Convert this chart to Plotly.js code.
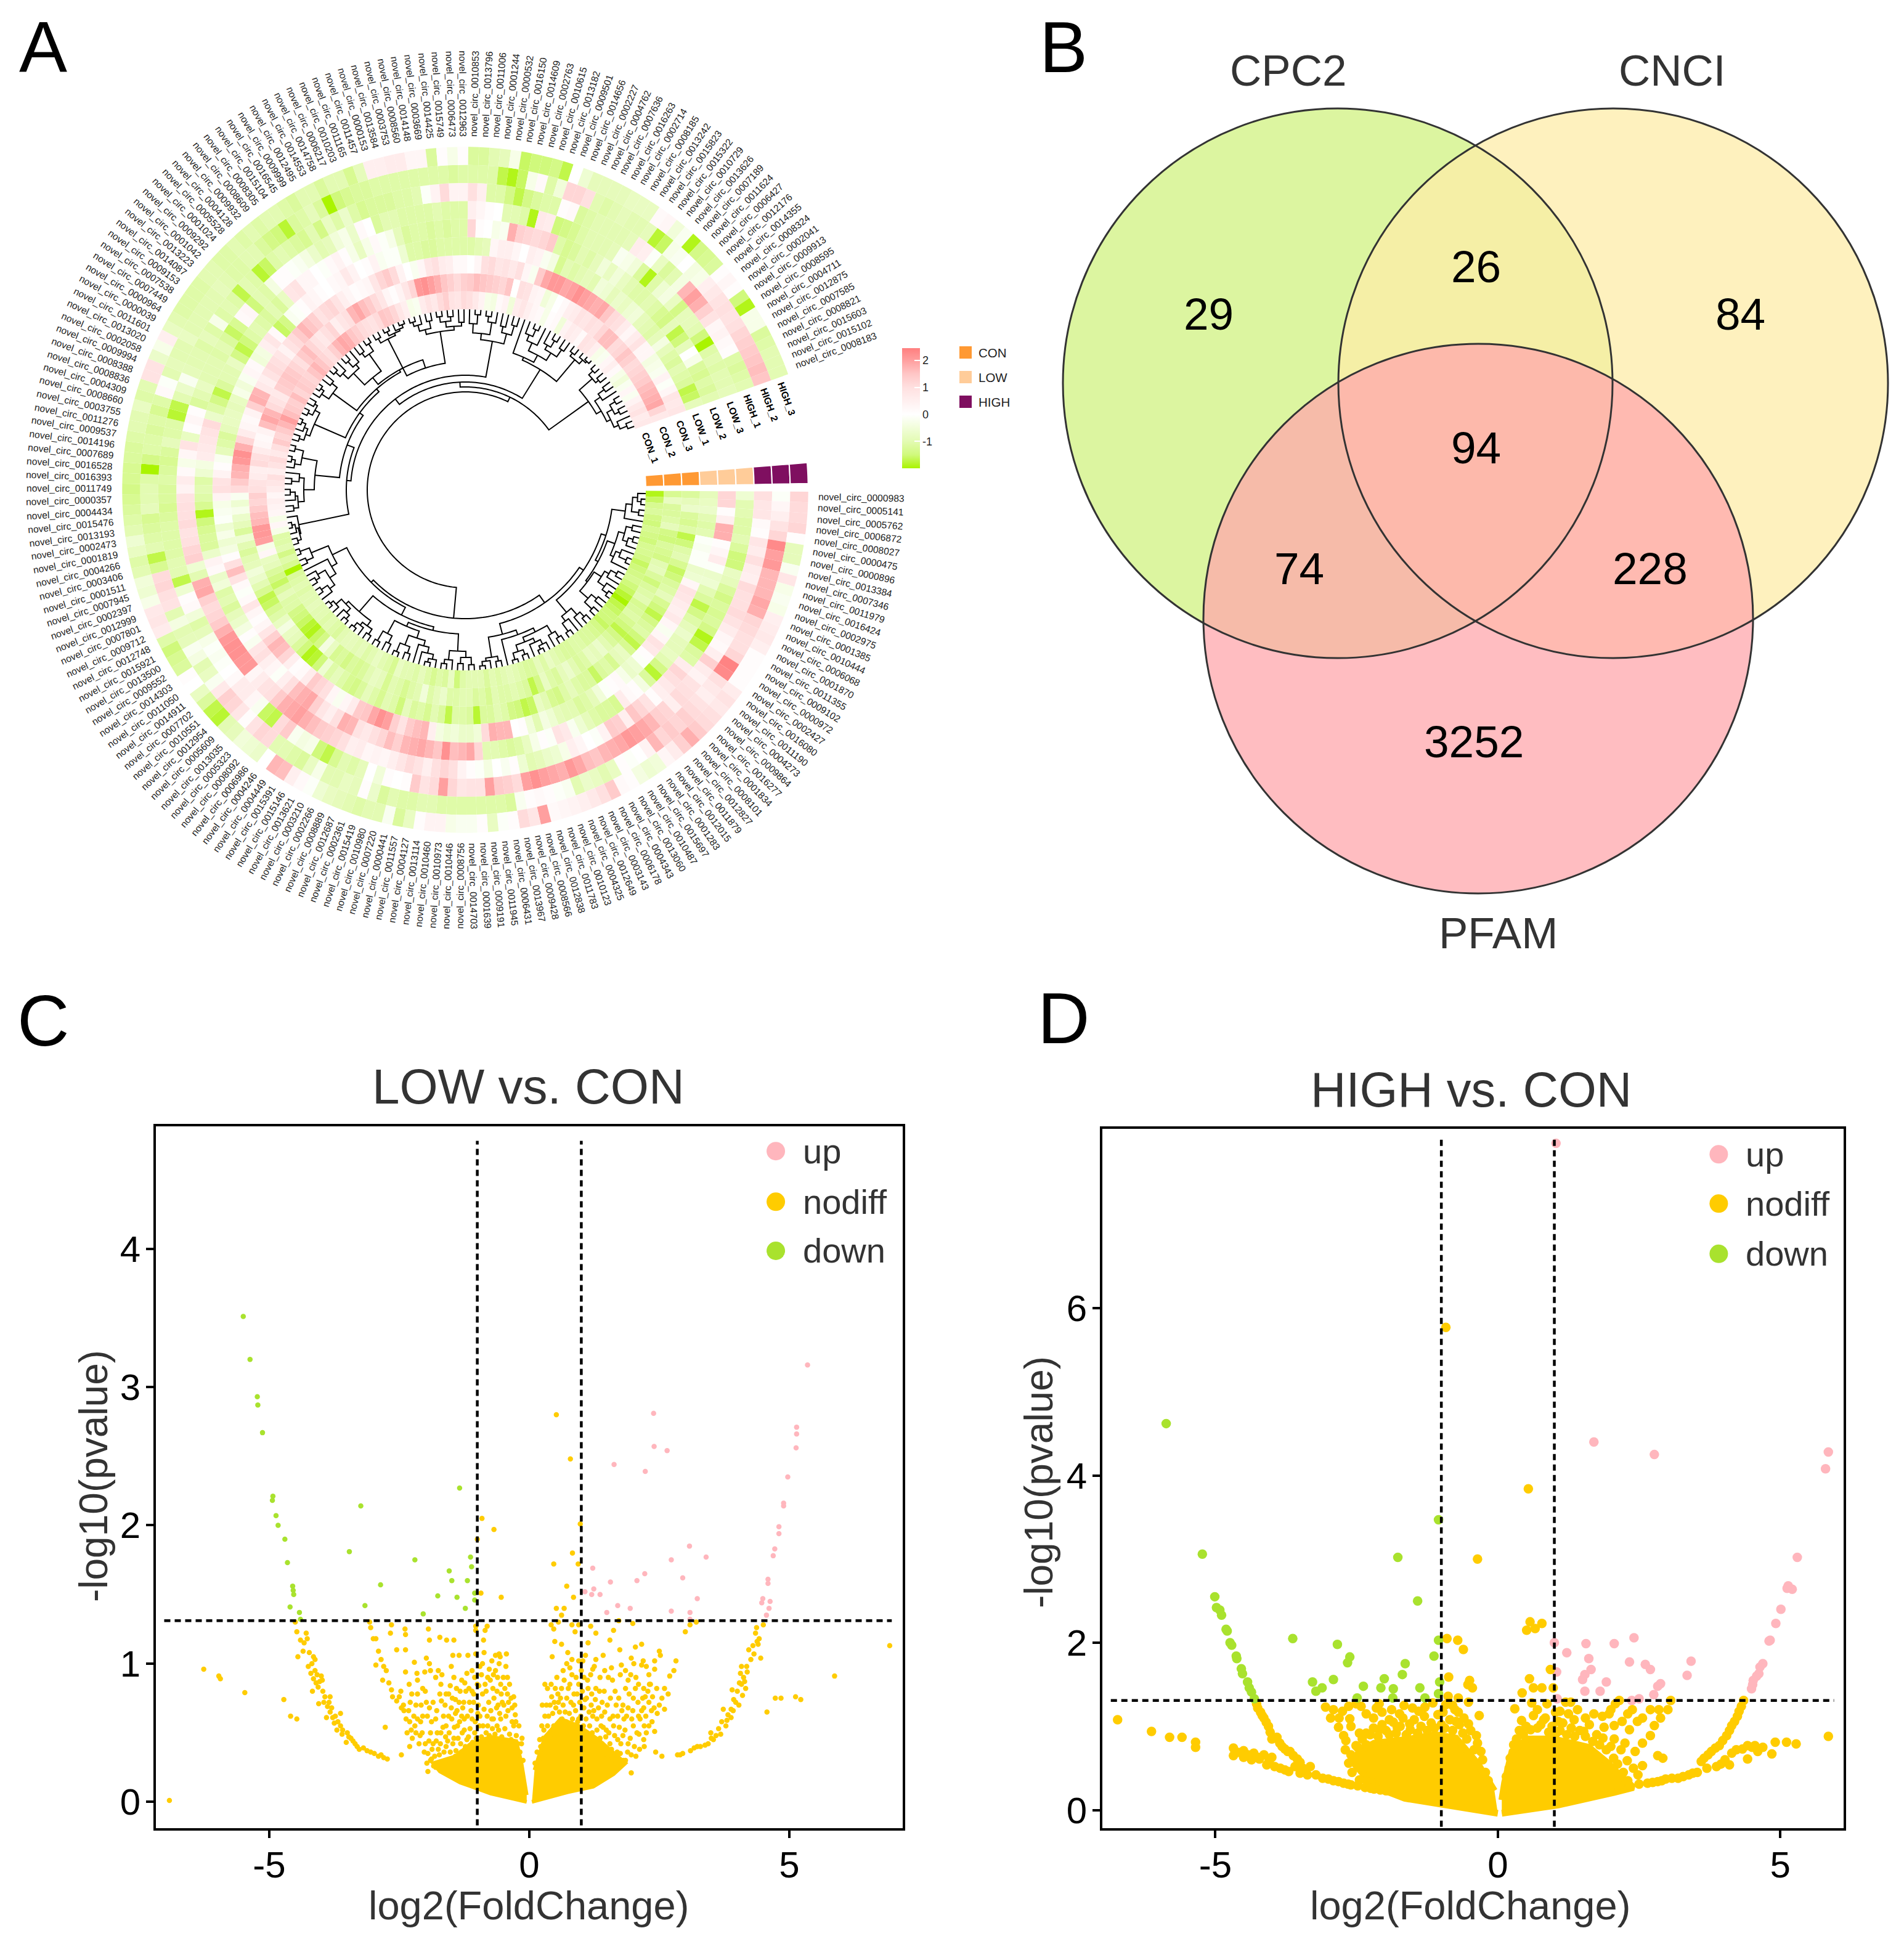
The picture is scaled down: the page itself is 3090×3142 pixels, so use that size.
<!DOCTYPE html>
<html><head><meta charset="utf-8">
<script src="https://cdn.plot.ly/plotly-3.0.1.min.js"></script>
<style>html,body{margin:0;padding:0;background:#fff}</style></head>
<body><div id="chart" style="width:3090px;height:3142px"></div>
<script>
const FONT='"Liberation Sans", Arial, sans-serif';
// ---------- Panel A: row labels, clockwise from the start of the sector
const circIds=[983,5141,5762,6872,8027,475,896,13384,7346,11979,16424,2975,1385,10444,6068,1870,11355,9102,972,2427,
16080,11190,4273,9864,16277,1834,8101,12827,11879,12015,1283,15697,10487,13060,4343,6178,3143,12649,4325,10123,
11783,12838,8566,9428,13967,6431,11945,9191,1639,14703,8756,10446,10973,10460,13114,4127,11557,441,7220,10980,
15419,2361,12687,8889,2266,3210,13621,15146,15391,4449,4246,6986,8092,5323,13035,5609,12954,10551,7702,14911,
11050,14303,9552,13500,15921,12748,9712,7801,12999,2397,7945,1511,3406,4266,1819,2473,13193,15476,4434,357,
11749,16393,16528,7689,14196,9537,11276,3755,8660,4309,8836,8388,9994,2058,13020,11601,39,964,7449,7538,
9153,14087,13223,1042,9292,1024,5528,4128,9932,8609,8305,15104,16545,9999,12495,14553,14758,6217,10203,11165,
11457,153,13584,3753,8560,14148,3669,14425,15749,6473,12963,10853,13796,11006,1244,532,16150,14609,2763,10615,
13182,9501,14656,2227,4762,7636,16263,2714,8185,13242,15823,15322,10729,13626,7189,11624,6427,12176,14355,8324,
2041,9913,8595,4711,12875,7585,8821,15603,15102,8183];
const sampleNames=['CON_1','CON_2','CON_3','LOW_1','LOW_2','LOW_3','HIGH_1','HIGH_2','HIGH_3'];
const groupNames=['CON','LOW','HIGH'];
const groupColors=['#FF9933','#FFCC99','#7F0F60'];
const sampleGroup=[0,0,0,1,1,1,2,2,2];
// heat values per sample ring (inner to outer)
const con1=[-1.9,-1.6,-1.3,-1.2,-1.4,-1.5,-1.3,-1.4,-1.5,-1.3,
-1.3,-1.4,-1.6,-1.5,-1.4,-1.3,-1.5,-1.6,-1.8,-2,
-1.7,-1.6,-1.5,-1.5,-1.6,-1.4,-1.3,-1.2,-1.2,-1.1,
-1.1,-1.2,-1.2,-1.1,-1,-.8,-1.1,-.9,-1.2,-1.2,
-1.1,-1,-.9,-1,-1.1,-1,-1.2,-1,-1,-1,
-1.1,-1.5,-.8,-1.2,-1.1,-1.3,-1.1,-.9,-1.1,-1,
-1,-.8,-1.3,-1.1,-1,-.8,-1,-1.1,-.9,-1,
-.9,-.9,-1,-1.2,-1.1,-1,-1.1,-1,-1,-.9,
-1,-1,-1.1,-1,-1.1,-1.2,-2,-1.3,-1.1,-1.4,
-1,-1.1,-1.1,-.3,.3,-.3,.3,.4,.5,.3,
.6,.8,1,.5,.9,1.1,.7,1,1.4,1.2,
1.4,1.7,2,1.6,1.4,1.3,1.6,1.2,1.4,1.3,
1.2,1.5,1.7,1.5,1.2,1,1.3,1.7,1.9,1.8,
1.5,1.3,1.1,1,.9,1.1,1.5,1.4,1.2,.8,
.5,-.3,-.2,.6,.9,.7,1.1,1.3,.9,.8,
1.1,1,.7,.4,-.3,-.4,.2,.4,-.5,.6,
.8,.5,.3,.2,-.3,.1,.2,-.5,.4,.6,
.5,.2,.9,.8,.5,-.3,-.2,.3,.5,.2,
-.3,-.5,-.2,.3,-.2,.4,.7,.9,.6,.7];
const con2=[-1.3,-.8,-1.2,-1.2,-1.1,-.9,-1.4,-1.5,-1.2,-1.3,
-1.4,-1,-.9,-1.2,-1.5,-1.2,-1.1,-1,-1.3,-1.2,
-1.1,-1.3,-1.5,-1.7,-1.4,-1.2,-1,-.7,-.9,-.8,
-1.1,-1.2,-1,-.7,-.9,-1.2,-1.1,-.8,-1.4,-1.7,
-1.2,-1.1,-1,-1.1,-1.1,-1,-1.3,-1.1,-1.2,-1,
-1,-1.1,-1.1,-.7,-.9,-1.1,-.5,-1,-1.1,-1.3,
-1.1,-1,-1.3,-.9,-.8,-1,-1.2,-1.3,-1.2,-1.4,
-1.2,-1.3,-.8,-.4,-1.4,-1.6,-1.9,-1.8,-1.6,-1.5,
-1.4,-1.1,-1.1,-.9,-1.2,-1.6,-1.4,-1.2,-.9,-.8,
.3,-.3,2,2.1,2.1,1.7,1.6,1.4,1.2,1.3,
1,.9,.6,.5,1.1,1,.6,.3,.2,.4,
1.6,1.9,1.7,1.1,.9,.7,1.3,1.4,1.5,1.4,
1.2,1,1.4,1.6,1.2,.9,.7,1,1.2,.5,
.8,1,1.7,1.9,1.6,1.4,1.1,.8,.3,.1,
.4,.8,1.2,2.1,2.2,2,1.8,1.5,1.3,1.1,
1.3,1.4,1.6,1.5,1.4,1.3,1.2,1.5,0,1,
.9,.4,.3,-.5,-.3,0,.2,.5,.6,.9,
.8,1,.9,1.2,1.6,1.6,1.1,1.2,1.5,1.3,
1.1,1.2,1.3,1.4,1.6,1.7,1.8,1.9,1.2,.7];
const con3=[-1.2,-.9,-.7,-1.2,-1.3,-1.1,-1.7,-1.5,-1.1,-1,
-1.3,-1.6,-1.5,-1.2,-1.1,-.9,-1.3,-1.5,-1.7,-1.4,
-1.2,-1.1,-1.5,-1.7,-1.3,-.8,-.9,-1.3,-1.1,-1.2,
-1.6,-1.2,-1.2,-1.1,-.9,-1.1,-1.4,-1.3,-1,-.8,
-1.6,-1.7,-1.5,-1.4,-1.1,-1,-1.2,-1.2,-1.8,-1.2,
-1.1,-1.1,-1.7,-1.2,-1,-1.3,-1.1,-1.2,-.9,-1.5,
-1.1,-1,-1.3,-1.1,-.9,-1.2,-1.4,-1.3,-1.1,-.9,
-1.1,-.6,-1.5,-1.8,-1.9,-1.5,-1.2,-.9,-.8,-.4,
-.8,-1.1,-1.3,-1.6,-1.7,-1.3,-1,-.7,-.5,-.9,
-1,-1.2,-1,-.6,-1.2,-.9,-.7,-.3,-.6,-.2,
1.1,1.4,1.7,1.8,2.1,2.2,1.8,1.2,.6,.3,
.2,.4,1.3,1.8,1.7,.7,.5,.9,1.1,1,
.8,.4,.9,1.1,1.4,1.7,1.5,1.3,.9,1.1,
1.2,.9,.5,.3,.1,.2,.3,.8,1.2,1.4,
1.1,.4,0,-.2,.3,.8,1,.6,.5,.2,
.2,0,.3,1,1.1,.8,.9,.7,1,.3,
-.2,1.4,1.9,2.1,2.1,1.9,2,2.2,2,1.9,
1.8,1.9,1.5,1.1,1,.6,.3,.6,.9,.3,
.3,-.4,-.3,-.2,.4,-.1,.3,.8,.7,.8];
const low1=[-.9,-.8,-.7,-1,-1.1,-1,-.1,-.2,-.1,-.1,
-.7,-.6,.3,.9,.8,.6,.5,.7,.3,-.2,
.3,.9,.7,.1,-.1,-.6,-.7,-.3,.2,.1,
-.1,-.5,-.9,-1.1,-1.2,-1,-1,-.9,-.6,-.4,
-1,-.5,.1,0,1.7,1.7,1.8,1.1,-.5,-.7,
-.7,-.5,-.6,-.4,.5,1.7,1.6,1.4,.9,1.3,
2,2.2,1.9,1.5,1.4,.6,.3,-.2,.3,1,
1.2,1.4,.6,.2,.1,.5,1.2,1.6,1.7,1.3,
.8,.3,.1,.3,.8,.2,-.1,.2,.9,1.6,
1,.1,-.4,-.6,-.3,-.6,-.1,-.2,-.3,.4,
1,.9,.4,.1,-.2,-.9,-1.1,-1.2,-.9,-.8,
-.8,-.9,-.8,-.3,-.5,-.2,.3,.2,-.5,-.4,
.5,.8,.2,-1.6,-1.4,-.2,-.1,.1,.4,.3,
.1,0,.2,.3,.7,.4,0,.1,.4,-.2,
-.1,-.1,-.6,-1.1,-1.1,-1.2,-1.2,-1.1,-1.1,-1.1,
-1.1,-1.1,-1,-.9,.3,.5,.5,.3,0,.5,
.4,-.2,-.4,-1.3,-1,-1.1,-1,-.9,-1,-.5,
-.6,-.9,-.7,-.8,-.6,-.5,-.9,-1,-1.1,-.9,
-.4,-.9,-1.1,-1.2,-1,-1.1,-1.2,-1.7,-1.6,-.9];
const low2=[1.2,1.2,.1,.5,1.8,1.8,.1,.3,.6,-.1,
-.7,-.6,-1,-1.2,-1.7,-1.4,-1.1,-.9,-.7,-.9,
-.9,-.8,-1,-1.4,-1.8,-1.2,-.4,.1,.2,.6,
-1.3,-1.2,-1.2,-1.1,-.9,-.6,-.2,.7,.9,-.1,
.1,-.3,-.8,-1.1,-1.2,-1.1,-1,-1,1.2,1.9,
1.7,1.6,2.2,1.5,1.7,1.9,1.8,1.7,1.3,1.6,
1.2,1,.7,.9,1.7,1.8,1,.5,.8,1.3,
1.9,1.8,1.6,1,.5,-.1,.3,.5,1,.8,
-.2,.1,-.4,-.7,-.9,-1.2,-1,-1.1,-.5,-.7,
.2,.4,-.7,-1.2,-1.2,-1.3,-1.5,-1.9,-1.3,-1.1,
-1,-1.1,-.6,-.4,.6,.7,.8,.9,1.1,-.7,
-1.1,-1.4,-1.7,-1.2,-1,-1,-.8,-1.4,-1.7,-1.5,
-1.1,-1,-1.1,-1.2,-1,-1.2,-.8,.8,.9,.3,
.3,0,-.1,.2,.4,.1,-.3,-.8,-.3,.2,
-.1,-.3,-.9,-1.2,-1.1,-1.1,-1.2,-1.1,-1.2,-1.1,
-1.1,1.2,.1,0,-.3,-.2,1.8,1.3,1.2,1.1,
1.2,1.4,-1.1,-1.3,-1.2,-1,-1.1,-.9,-.5,-.8,
-.5,-.8,-1,-1.1,-1.1,-1,-1.1,-1.3,-1.4,-.9,
-1.7,-1.5,-.9,0,-.3,-1.2,-1.3,-1.1,-1.2,-1];
const low3=[-.6,-1,-1,-1.1,-1.1,-1,-1.2,-1.5,-1.5,-.8,
-.9,-1.2,-1.4,-1.2,-1.3,-1.2,-1.4,-1.9,-1.7,-1.2,
-1.1,.6,1.2,1,.7,.5,.1,.9,1.2,1.5,
.5,1.3,1.4,.4,-.1,0,.3,.5,-.3,-.6,
-.7,-.9,-1,-.6,.1,-.2,0,-.4,-.1,.1,
.4,1,1.2,1,.5,.9,1.1,.8,.5,.3,
.4,.3,.6,.5,1,1.2,1.3,1.4,1.6,1.8,
2,1.9,1.8,1.4,1,.9,.6,.3,2.1,2.1,
2.2,2.2,2.1,1.8,1.4,1.2,1.1,1.3,1.9,1.8,
-1,-.6,1.3,1.2,1,.9,1.1,1,1,.9,
.4,.6,.2,-.3,.3,.9,-.8,.1,.3,.1,
-1.2,-1,-.8,-1,-1,-1,-1.1,-1,-1.2,-1.6,
-1.3,.2,.3,-1.5,-1,-1.1,-.4,.1,.1,-.1,
-.2,-.4,-.7,-1,-.9,-.5,-.3,-.7,.2,0,
-1.2,-1,-1,-1.1,-1.1,-1.1,-1.1,-1,-1.1,-1.1,
-1.1,.5,.3,.1,0,-1,-1,-1.1,-1.9,.7,
.6,-1.5,-1.4,-1.3,-1.1,-1,-1,-1,-.9,-.2,
-.3,-.5,-1.2,-1.9,-1.1,-.6,-.4,-.8,-1.4,-.9,
-.9,-1,-1.5,-2,-1.1,-1,-1.1,-1,-1,-.9];
const high1=[1,.8,.8,.2,.1,.8,.6,1,.6,.5,
1.1,1,1,1.1,.9,.6,.3,.2,.5,1.3,
.6,.4,.9,1,1.1,.5,1.2,1.3,1.7,1.9,
2,2.1,1.9,1.8,1.7,1.5,1.6,1.9,2.1,1.8,
1.9,2,2.2,2,1.1,1.3,1.4,2,.9,.9,
.8,1.2,2,1.1,.9,1.4,.1,0,.1,-.5,
0,-.9,-1.1,-1,-1.3,-1.7,-1.5,-.3,-.4,-.2,
1.4,1.1,-1.7,-1.6,-.2,.3,.6,.6,.2,0,
-.1,-.2,-.1,-.3,-.9,-1.1,-.5,.2,.1,-.6,
-1.7,-1,-1,-1.1,-1.1,-1.1,-1.1,-1.2,-1.3,-1.2,
-1.2,-1.1,-1.2,-1.3,-1.2,-.9,-1.1,-1.1,-1.8,-1.7,
-1,-.7,-.2,-.9,-1,-1,-1.1,-.9,-1.1,-.3,
-1.1,-1,-1.1,-1.7,-1,-1.1,-1.8,-1.6,-1.1,-1,
-1.1,-1.2,-1.3,-1,-1.4,-.8,-1.1,-.7,-1.1,-1.3,
-1.2,-1.2,-1.2,-1.1,-1.1,-1,-.1,.4,1.1,.4,
.4,1,.5,-1.1,-1.1,-1.4,-1.7,-1.4,-1.2,-1.1,
-1.1,.1,.2,-1.2,-1.1,-1,-1,-1,-1,-.9,
.6,.5,-.1,-.8,-1.2,-1,-.4,1.7,2,1.8,
1.3,.9,.3,.4,.2,.1,-1.1,-1.2,-1.1,-1];
const high2=[-.1,.3,.5,.9,1.2,2.3,2,2.1,1.7,1.7,
1.7,1.9,1.8,1.2,1.1,1,1,1.2,2.4,2.3,
1,.7,.5,.9,1.1,1.3,1.2,1.4,1.2,1.7,
.4,0,-.1,.1,-.8,-1,-.8,-.7,-1,-.2,
-.1,.1,.2,.1,-.2,-1.2,-1.1,-1.1,-1.1,-1.1,
-1.1,-1.1,-1.1,-1,-1,-1.1,-1.1,-1,-1.2,-.7,
.1,-.9,-.8,-1,-1,-.3,-.8,-1.2,-1.1,-1,
-1,1.1,1.2,.9,.1,.8,1.2,1.3,.7,-.2,
-.8,-1,-.4,-.2,-.9,-1,-.4,-1,.9,1,
1.2,1.1,-1.3,-1.7,-1,-1.1,-1.2,-1.3,-.9,-1,
-1,-1.1,-2,-1.4,-1.1,-1.1,-1.2,-1.1,-1.3,-1.1,
.2,-.1,-1,-.9,-1,-1,-.8,-1,-1,-1,
-1,-1,-.9,-1,-1.1,-1.1,-1,-1,-1.2,-1.4,
-1.5,-1.8,-1.2,-1.1,-.9,-1.2,-2,-1.5,-1.3,-1.2,
-1.2,-1.1,-1.1,-1.1,-1.1,-1.1,-1.1,-1.1,-1.1,-1.2,
-1.1,-1.1,-1.1,-1.1,-1.7,-1.9,-1.6,-.3,.2,-1.1,
-.5,1.2,1.2,1,-1,-1.1,-1,-.9,-1,-1,
-.9,-1.8,-1.6,-.3,-.2,0,-.4,-.3,.5,.7,
.9,1,.9,1,1.2,1.3,1.4,1.5,1.6,1.5];
const high3=[1.2,1.1,1.1,1.2,.1,-.9,-.9,-.2,.8,-.3,
-.2,-.3,.5,.6,.7,.5,.1,.1,.1,.1,
.6,.9,.7,1,1.1,1.4,1.8,1.3,.6,.3,
-.5,-.6,-.4,.1,.2,1.4,1,.7,.5,.4,
.3,.2,2,.8,1.1,.1,-.1,-.8,.1,-.2,
-.2,-.3,.4,.4,.1,-.8,-1.2,-.2,-1,-1,
-1.1,-1,-.9,-.8,-.6,-.1,.2,.5,1.6,1.7,
0,-.7,-.6,-.5,-.9,-1,-1.8,-1.7,-1.2,-.8,
0,.1,-1.2,-1.3,-1.5,-1.1,.6,.8,.7,-.3,
-.6,-.5,-1,-1.1,-.8,-.6,-1,-1.1,-1.2,-1.3,
-1.4,-1.3,-1.3,-1.2,-1.2,-1.1,-1,-1,-.8,-1.1,
-1,.9,.9,-.7,-.3,.5,-.8,-1,-1.1,-1.1,
-1.1,-1.1,-1,-1,-1.1,-1.1,-1,-1.1,-1,-1.1,
-1,-1,-1.1,-1.2,-1,-1,-1.2,-1,-1,-1.3,
-.9,.5,.5,.6,.6,.3,.3,-1.2,.1,-.3,
.1,-1.2,-1.2,-1,-.9,-.3,-1.6,-1.5,-1.5,-1.4,
-1.7,0,-.6,-.9,-.9,-.9,-.9,-.8,-.8,-.8,
.2,.3,-.5,-.2,-1.9,-1.4,-1.3,-1.2,.1,.3,
.1,-1.5,-1.9,-.3,-.3,-1.2,-1.1,-1,-1,-1];
const heatRings=[con1,con2,con3,low1,low2,low3,high1,high2,high3];

// dendrogram clusters: [merge radius, child, child]; 0 is one leaf
const c1=[262,[272,[280,0,[286,0,0]],[284,0,0]],0];
const c2=[258,[268,[278,0,0],[276,[284,0,0],0]],[264,[272,0,[285,0,0]],0]];
const c3=[262,[270,[281,0,0],0],[275,0,[285,0,0]]];
const c4=[266,[277,0,0],[282,0,0]];
const c5=[258,[272,[282,0,0],0],[268,0,[284,0,0]]];
const yy=[272,[283,0,0],0];
const zz=[265,[272,[280,0,[286,0,0]],0],[276,[284,0,0],[287,0,0]]];
const ee=[275,[283,0,0],[280,0,[287,0,0]]];
const g1=[262,[272,[284,0,0],[282,0,0]],[277,0,[284,0,0]]];
const dd=[253,[262,[272,[280,0,[286,0,0]],0],0],[270,[281,0,0],[285,0,0]]];
const ff=[265,[278,0,0],[283,0,0]];
const cc=[262,[272,[282,0,0],[278,0,[286,0,0]]],[268,[277,[285,0,0],0],[280,0,[286,0,0]]]];
const gg=[240,[250,[262,[272,0,[284,0,0]],[276,[283,0,0],0]],0],[270,[282,0,0],[286,0,0]]];
const c165=[276,[278,[284,0,0],[282,0,[287,0,0]]],0];
const c186=[245,[262,[272,[280,0,0],[276,0,[284,0,0]]],[270,[282,0,0],0]],[270,[280,0,[286,0,0]],[284,0,0]]];
const c202=[267,[274,[282,0,0],[280,0,[287,0,0]]],[276,[284,0,0],[281,0,0]]];
const c212=[266,[280,0,[286,0,0]],[277,0,0]];
const c218=[236,[262,[274,[284,0,0],0],[270,[282,0,0],0]],[270,[278,0,0],[284,0,0]]];
const c247=[275,[283,0,0],[279,[286,0,0],[282,0,[287,0,0]]]];
const c261=[260,[268,[278,[285,0,0],0],[280,0,0]],[266,[275,[284,0,0],[282,0,0]],[272,0,0]]];
const topC=[245,[255,[270,0,[285,0,0]],[275,[284,0,0],0]],[262,[272,0,0],[278,0,0]]];
const kk=[262,[272,0,[284,0,0]],0];
const ll=[262,[270,0,[282,0,0]],[276,0,0]];
const ii=[276,[282,0,0],[284,0,[287,0,0]]];
const b1=[274,[283,0,0],[280,0,0]];
const b2=[255,[266,[278,0,0],0],[262,[272,[282,0,0],[280,0,0]],[270,0,[282,0,0]]]];
const nP=[224,[232,[240,c1,[245,c2,[248,c3,c4]]],c5],[242,[250,[257,yy,zz],0],ee]];
const nN3=[228,[234,g1,[241,dd,ff]],cc];
const n1=[209,nP,[214,nN3,gg]];
const nD=[193,c165,[205,c186,[212,c202,[218,c212,[222,c218,[208,c247,c261]]]]]];
const nG=[230,[235,0,[248,kk,ll]],ii];
const nA=[167,[175,[186,nD,topC],nG],[246,b1,b2]];
const dendroRoot=[159,n1,nA];

// ---------- Panel B
const vennNames=['CPC2','CNCI','PFAM'];
const vennCounts=['29','26','84','94','74','228','3252'];
// ---------- Panel C
const cUp=[[5.35,3.16],[5.14,2.71],[5.14,2.66],[5.13,2.56],[4.97,2.35],[4.89,2.16],[4.89,2.14],[4.8,1.99],[4.8,1.94],[4.72,1.83],[4.69,1.78],[4.59,1.61],[4.59,1.58],[4.49,1.47],[4.47,1.44],[4.63,1.45],[4.61,1.4],[4.56,1.35],[2.39,2.81],[2.4,2.57],[2.65,2.54],[1.63,2.44],[2.23,2.39],[3.08,1.85],[3.4,1.77],[2.73,1.75],[1.22,1.69],[2.22,1.65],[2.95,1.62],[2.07,1.6],[1.56,1.59],[1.24,1.54],[1.07,1.52],[1.2,1.5],[1.36,1.5],[3.23,1.47],[1.7,1.42],[1.94,1.4],[1.49,1.37],[2.73,1.38],[3.09,1.37],[3.09,1.32]];
const cDown=[[-5.5,3.51],[-5.37,3.2],[-5.23,2.93],[-5.22,2.87],[-5.13,2.67],[-4.93,2.21],[-4.94,2.18],[-4.87,2.07],[-4.83,2],[-4.7,1.9],[-4.65,1.73],[-4.55,1.56],[-4.54,1.53],[-4.53,1.5],[-4.6,1.41],[-4.42,1.37],[-4.4,1.32],[-1.34,2.27],[-1.13,1.77],[-1.11,1.7],[-1.54,1.67],[-1.49,1.6],[-1.19,1.6],[-1.76,1.49],[-1.39,1.48],[-1.05,1.51],[-1.05,1.46],[-1.23,1.4],[-2.04,1.36],[-2.86,1.57],[-3.16,1.42],[-3.46,1.81],[-3.24,2.14],[-2.2,1.75]];
const cNodiffOuter=[[-4.5,1.3],[-4.47,1.23],[-4.4,1.17],[-4.35,1.09],[-4.29,1.22],[-4.27,1.18],[-4.45,1.05],[-4.15,1.05],[-4.12,1.03],[-4.25,.98],[-4.2,.93],[-4.15,.89],[-4,.91],[-3.98,.88],[-4.06,.83],[-4.17,.8],[-3.93,.76],[-3.83,.76],[-4.05,.71],[-3.88,.69],[-3.83,.65],[-3.63,.64],[-3.78,.61],[-3.9,.61],[-3.68,.58],[-3.63,.55],[-3.7,.52],[-3.59,.52],[-3.47,.47],[-3.52,.43],[-3.39,.44],[-3.31,.4],[-3.19,.39],[-3.05,.36],[-2.85,.34],[-2.73,.31],[-2.46,.34],
[-6.92,.01],[-6.26,.96],[-5.97,.91],[-5.94,.89],[-5.47,.79],[-4.72,.74],[-4.59,.62],[-4.47,.6],[-2.77,.54],
[-3.07,1.3],[-3.05,1.26],[-3,1.18],[-2.95,1.18],[-2.67,1.22],[-2.65,1.28],[-2.39,1.25],[-2.38,1.21],[-1.94,1.25],[-1.92,1.17],[-1.72,1.19],[-1.59,1.17],[-1.45,1.17],[-2.9,1.09],[-2.38,1.1],[-2.55,1.1],[-2.85,1.03],[-2.95,.99],[-2.8,.98],[-2.75,.95],[-2.82,.88],[-2.7,.86],[-2.65,.81],[-2.63,.76],[-2.55,.73],[-2.46,.68],[-2.5,.76],[-2.41,.66],[-2.38,.94],[-2.31,.85],[-2.26,.78],[-2.16,.93],[-2.01,.94],[-2.21,1.01],[-1.98,1.04],[-1.92,1],[-1.47,1.06],[-1.35,1.06],[-1.18,1.06],[-1.03,1.07],[-.87,1.08],[-.56,1.05],[-.44,1.07],[-1.03,1.27],[-1.03,1.24],[-.81,1.27],[-.85,1.24],[-.88,1.17],
[-1,1.9],[-.91,2.05],[-.68,1.97],[-.93,1.51],[-.54,1.48],[.52,2.8],[.79,2.48],[.98,2.01],[.83,1.8],[.47,1.72],[.94,1.72],[.72,1.56],[.85,1.48],[.52,1.4],[.67,1.4],[.62,1.35],[.56,1.3],[.42,1.28],[.47,1.25],[.82,1.28],[.95,1.28],[.88,1.23],[1.18,1.27],[1.28,1.22],[1.72,1.31],[1.62,1.24],[1.99,1.29],[1.55,1.17],[.49,1.16],[.62,1.14],[1.13,1.15],[3,1.23],[3.09,1.28],[3.21,1.3],
[.44,1.05],[.74,1.08],[.82,1.03],[1.08,1.06],[1.28,1.03],[1.42,1.06],[1.74,1.1],[2.16,1.14],[2.04,1.12],[1.96,1.04],[1.77,.99],[2.01,1],[2.19,1.02],[2.16,.99],[2.41,1.02],[2.5,1.09],[2.52,1.06],[2.41,.96],[2.82,1.02],[2.78,.95],[2.7,.91],[2.31,.85],[2.6,.82],[2.67,.78],[2.55,.75],[2.23,.76],[2.6,.67],[2.46,.64],[2.36,.58],[2.21,.55],[2.41,.51],[2.11,.49],[2.21,.4],[1.96,.34],[1.96,.21],[2.43,.36],[2.55,.33],[2.85,.34],[2.95,.35],[3.17,.39],[3.29,.4],[3.44,.42],[3.54,.45],[3.49,.5],[3.68,.49],[3.78,.55],[3.7,.58],[3.88,.61],[3.73,.67],[3.88,.67],[4.03,.7],[3.93,.74],[4.1,.77],[3.9,.81],[4.08,.85],[4.16,.82],[4.06,.93],[4.19,.94],[4.08,.98],[4.22,1.1],[4.32,1.07],[4.4,1.14],[4.45,1.04],[4.35,1.22],[4.37,1.26],[4.5,1.28],[4.42,1.18],[4.57,.65],[4.73,.75],[4.84,.75],[5.12,.76],[5.22,.74],[5.87,.91],[6.93,1.13]];
const cNodiffArcs=[[-4.33,1.15],[-4.23,1.08],[-4.18,1],[-4.12,.95],[-4.08,.92],[-4.03,.87],[-4.1,.86],[-3.97,.8],[-3.95,.72],[-3.85,.72],[-3.8,.68],[-3.73,.62],[-3.75,.57],[-3.6,.49],[-3.5,.5],[-3.43,.46],[-3.35,.42],[-3.27,.38],[-3.12,.37],[-2.98,.35],[-2.9,.33],[-2.8,.32],
[4.38,1.16],[4.3,1.13],[4.26,1.03],[4.18,.98],[4.12,.9],[4.14,.87],[4.04,.86],[4,.8],[3.97,.72],[3.92,.66],[3.82,.63],[3.8,.59],[3.64,.53],[3.59,.48],[3.5,.46],[3.38,.41],[3.23,.4],[3.1,.37],[2.9,.34]];
const cNodiffLeft=[[-1.9,.95],[-1.8,.9],[-1.7,.85],[-1.72,.78],[-1.85,.72],[-1.92,.68],[-2.05,.62],[-2.15,.6],[-2.2,.55],[-2.3,.58],[-2.35,.5],[-2.25,.46],[-2.1,.48],[-2,.42],[-1.95,.35],[-1.88,.31],[-1.75,.38],[-1.7,.5],[-1.6,.55],[-1.55,.62],[-1.62,.7],[-1.5,.68],[-1.42,.64],[-1.38,.55],[-1.45,.46],[-1.32,.42],[-1.3,.62],[-1.35,.72],[-1.22,.8],[-1.28,.68],[-1.15,.72],[-1.1,.8],[-1.05,.9],[-1,.85],[-.98,.7],[-1.1,.6],[-1.05,.5],[-.95,.62],[-.9,.78],[-.85,.85],[-.8,.9],[-.75,.88],[-.7,.82],[-.62,.8],[-.55,.85],[-.5,.9],[-.65,.95],[-.58,1],[-.68,.75],[-.78,.72],[-.6,.7],[-.52,.72],[-.42,.78],[-.35,.75],[-.3,.76],[-.45,.62],[-.55,.6],[-.62,.55],[-.72,.6],[-.8,.55],[-.3,.55],[-.25,.48],[-.2,.55],[-.35,.45],[-.15,.42],[-1.2,.45],[-1.15,.38],[-1.25,.52],[-.95,.42],[-.85,.45],[-1.6,.4],[-1.5,.3],[-1.42,.33],[-1.7,.28],[-1.8,.25],[-2.3,.4],[-1.95,.22],[-2.15,.88],[-2.15,.78],[-2,.8],[-1.98,.72],[-1.8,.6],[-1.9,.5],[-1.85,.42],[-2.05,.82],[-1.75,.95],[-1.68,.92],[-1.45,.9],[-1.5,.98],[-1.4,.82],[-1.3,.88],[-1.2,.93],[-1.1,.95],[-.95,.98],[-.9,1],[-.72,1.02],[-.65,1.06],[-.58,1.07],[-.45,.98],[-.42,.9],[-.38,.85],[-1.55,.78],[-1.48,.75],[-1.65,.62],[-1.25,.6],
[-.12,.3],[-.18,.36],[-.14,.46],[-.22,.42],[-.27,.63],[-.33,.58],[-.38,.49],[-.41,.66],[-.47,.53],[-.49,.7],[-.53,.47],[-.57,.64],[-.59,.52],[-.63,.68],[-.66,.49],[-.69,.6],[-.71,.53],[-.74,.66],[-.77,.48],[-.81,.62],[-.83,.5],[-.87,.67],[-.89,.55],[-.92,.47],[-.96,.55],[-.99,.64],[-1.02,.46],[-1.04,.58],[-1.07,.72],[-1.09,.43],[-1.12,.66],[-1.14,.53],[-1.17,.47],[-1.19,.62],[-1.23,.4],[-1.26,.72],[-1.29,.5],[-1.31,.36],[-1.34,.58],[-1.37,.46],[-1.39,.66],[-1.41,.37],[-1.44,.54],[-1.47,.42],[-1.49,.6],[-1.52,.36],[-1.54,.5],[-1.57,.44],[-1.59,.3],[-1.61,.47],[-1.64,.36],[-1.66,.54],[-1.68,.27],[-1.71,.42],[-1.73,.34],[-1.77,.5],[-1.79,.44],[-1.82,.33],[-1.84,.26],[-1.87,.38],[-1.9,.3],[-1.93,.44],[-1.97,.28],[-2.02,.36],[-2.06,.5],[-2.09,.58],[-2.12,.42],[-2.18,.5],[-2.22,.62],[-2.27,.52],[-2.32,.66],[-2.37,.6],[-2.42,.7],[-2.47,.8],[-2.29,.72],[-2.18,.7],[-2.08,.7],[-1.96,.62],[-1.88,.58],[-1.78,.66],[-1.69,.73],[-1.6,.78],[-1.52,.84],[-1.42,.74],[-1.33,.8],[-1.24,.86],[-1.16,.82],[-1.07,.78],[-.97,.84],[-.92,.92],[-.83,.8],[-.77,.96],[-.69,.92],[-.61,.9],[-.54,.78],[-.47,.82],[-.4,.72],[-.33,.68],[-.28,.7],[-.26,.58]];
const cNodiffRight=[[.3,.85],[.35,.82],[.42,.85],[.5,.82],[.25,.7],[.3,.62],[.28,.52],[.2,.45],[.35,.55],[.4,.7],[.48,.72],[.55,.78],[.62,.82],[.58,.65],[.65,.7],[.72,.75],[.78,.85],[.82,.92],[.85,.7],[.92,.78],[.95,.85],[1,.95],[1.05,.9],[1.12,.88],[1.18,.92],[1.1,.75],[1.2,.78],[1.28,.82],[1.35,.8],[1.4,.72],[1.45,.65],[1.52,.9],[1.6,.88],[1.65,.8],[1.72,.75],[1.8,.7],[1.85,.82],[1.9,.88],[1.95,.92],[2.05,.9],[2.1,.85],[2,.75],[1.9,.68],[1.82,.6],[1.7,.62],[1.62,.55],[1.55,.6],[1.48,.52],[1.38,.55],[1.3,.6],[1.22,.62],[1.15,.65],[1.05,.68],[.95,.6],[.88,.55],[1,.5],[1.1,.5],[1.25,.45],[1.4,.42],[1.55,.42],[1.7,.45],[1.8,.48],[1.9,.42],[2,.55],[2.1,.62],[2.2,.68],[2.3,.72],[2.35,.66],[1.75,.35],[1.6,.3],[1.5,.32],[1.85,.3],[1.3,.32],[2.25,.5],[2.2,.45],[2.12,.38],[2.05,.33],[2.3,.55],[.65,.95],[.72,1],[.95,1.02],[1.25,.98],[1.45,.95],[1.75,.92],[2.25,.98],[2.3,.92],[2.45,.82],[2.5,.7],[2.2,.82],
[.11,.28],[.15,.36],[.18,.3],[.22,.4],[.24,.55],[.27,.46],[.31,.4],[.33,.7],[.37,.62],[.39,.47],[.43,.76],[.45,.64],[.47,.55],[.51,.68],[.53,.9],[.56,.72],[.6,.75],[.63,.6],[.67,.88],[.69,.65],[.71,.58],[.75,.82],[.77,.64],[.8,.72],[.83,.6],[.86,.78],[.89,.66],[.9,.9],[.93,.58],[.97,.72],[.99,.62],[1.02,.8],[1.04,.55],[1.07,.74],[1.09,.6],[1.13,.82],[1.16,.55],[1.19,.7],[1.21,.5],[1.24,.66],[1.27,.74],[1.3,.52],[1.33,.68],[1.36,.46],[1.39,.62],[1.42,.54],[1.44,.8],[1.47,.47],[1.5,.7],[1.53,.5],[1.56,.75],[1.58,.38],[1.61,.62],[1.64,.48],[1.67,.7],[1.69,.36],[1.73,.54],[1.76,.42],[1.78,.66],[1.81,.3],[1.84,.52],[1.87,.62],[1.89,.36],[1.92,.78],[1.94,.46],[1.97,.6],[1.99,.66],[2.02,.4],[2.04,.82],[2.07,.5],[2.09,.72],[2.13,.6],[2.16,.66],[2.18,.75],[2.24,.62],[2.28,.8],[2.33,.85],[2.37,.76],[2.4,.68],[.78,.97],[1.03,1.02],[1.22,.96],[1.36,.9],[1.58,.97],[1.85,.95]];
const cNodiff=[].concat(cNodiffOuter,cNodiffArcs,cNodiffLeft,cNodiffRight);
// outlines of the parts of the cloud too dense to read as single points
const cDenseLeft=[[-.05,0],[-.74,.06],[-1.33,.14],[-1.72,.22],[-1.85,.28],[-1.42,.33],[-1.13,.42],[-.74,.47],[-.25,.44],[-.15,.28],[-.05,.05]];
const cDenseRight=[[.05,0],[.74,.07],[1.23,.11],[1.62,.2],[1.85,.28],[1.6,.36],[1.33,.45],[.95,.55],[.6,.6],[.3,.47],[.1,.23]];
// ---------- Panel D
const dUp=[[1.03,7.97],[1.7,4.4],[2.77,4.25],[5.85,4.28],[5.8,4.08],[5.3,3.02],[5.14,2.68],[5.21,2.64],[5.12,2.65],[5.01,2.4],[4.92,2.23],[4.82,2.03],[4.8,2.02],[4.69,1.75],[4.64,1.71],[4.62,1.63],[4.58,1.6],[4.52,1.55],[4.51,1.5],[4.49,1.45],[1,2],[1.22,1.88],[1.56,1.99],[2.06,1.99],[2.41,2.06],[1.61,1.81],[2.33,1.77],[2.61,1.74],[2.7,1.68],[3.42,1.78],[3.35,1.61],[2.88,1.51],[2.83,1.48],[2.76,1.38],[2.5,1.33],[2.37,1.31],[1.92,1.53],[1.81,1.42],[1.54,1.42],[1.5,1.56],[1.54,1.62],[1.65,1.68],[1.04,1.65],[1.05,1.33]];
const dDown=[[-5.87,4.62],[-5.23,3.06],[-5.01,2.55],[-4.98,2.42],[-4.92,2.39],[-4.89,2.33],[-4.81,2.16],[-4.79,2.14],[-4.74,2],[-4.71,1.97],[-4.63,1.84],[-4.62,1.81],[-4.54,1.69],[-4.52,1.63],[-4.43,1.53],[-4.4,1.46],[-4.36,1.41],[-4.31,1.33],[-3.63,2.05],[-2.84,1.98],[-2.62,1.83],[-2.66,1.76],[-2.91,1.56],[-3.28,1.53],[-3.22,1.42],[-3.11,1.46],[-2.49,1.34],[-2.38,1.48],[-2.07,1.46],[-2.01,1.57],[-1.85,1.45],[-1.86,1.34],[-1.69,1.62],[-1.64,1.75],[-1.38,1.46],[-1.29,1.34],[-1.13,1.84],[-1.05,2.03],[-1.03,1.53],[-1.05,1.39],[-1.05,3.47],[-1.77,3.02],[-1.42,2.5]];
const dNodiffMain=[[-.92,5.77],[.54,3.84],[-.36,3],[.57,2.25],[.78,2.23],[.51,2.15],[.66,2.17],[-.9,2.05],[-.71,2.03],[-.61,1.92],[.93,1.68],[-.87,1.59],[.56,1.57],[-.5,1.55],[-.53,1.5],[-.45,1.46],[.63,1.46],[.78,1.46],[.98,1.46],[.43,1.4],[-6.73,1.08],[-6.13,.94],[-5.81,.87],[-5.59,.87],[-5.35,.81],[-5.35,.75],[5.85,.88],[5.28,.79],[5.11,.81],[4.91,.81],[4.69,.75],[4.85,.67],[2.83,.65],[2.92,.62],
[-4.27,1.27],[-4.2,1.17],[-4.14,1.1],[-4.06,1],[-4,.85],[-3.91,.87],[-3.86,.8],[-3.77,.73],[-3.68,.7],[-3.55,.61],[-3.59,.52],[-3.32,.52],[-3.37,.42],[-3.1,.38],[-2.91,.35],[-2.73,.32],[-2.6,.3],[-2.35,.27],[-2.19,.25],[-1.98,.23],
[-4.68,.74],[-4.68,.65],[-4.5,.71],[-4.32,.68],[-4.36,.6],[-4.14,.66],[-4,.63],[-4.09,.54],[-3.77,.48],[-3.95,.52],[-4.5,.63],[-4.22,.61],
[2.33,.29],[2.15,.26],[2.65,.32],[2.83,.34],[2.97,.37],[3.19,.38],[3.38,.42],[3.53,.45],[3.65,.62],[3.78,.7],[3.92,.77],[4.05,.89],[4.14,1.01],[4.24,1.12],[4.31,1.24],[4.35,1.31],[4.14,.68],[4.33,.73],[4.42,.77],[4.55,.77],[3.87,.52],[4.1,.54],[4.42,.61],
[3.06,1.31],[3.01,1.2],[2.88,1.1],[2.77,1.01],[2.7,.89],[2.56,.8],[2.56,.53],[2.43,.7],[2.29,.59],[2.56,1.1],[2.47,1.06],[2.33,.96],[2.2,1.06],[2.06,1.01],[1.97,1.15],[2.38,1.2],[2.15,1.31],[2.08,1.27],[1.7,1.15],[1.41,1.2],[1.29,1.29],[1.2,1.29],[1.25,1.15],[1.02,1.17],[.87,1.27],[.81,1.08],[.3,1.21],[.42,1.07],[1.07,1.06],[1.52,.94],[1.88,.99],[2.06,.85],
[-3.05,1.23],[-2.91,1.2],[-2.96,1.1],[-2.81,1.1],[-2.82,.99],[-2.73,.89],[-2.69,.83],[-2.64,1.24],[-2.51,1.27],[-2.42,1.24],[-2.33,1.15],[-2.62,1.09],[-2.1,1.27],[-2.05,1.17],[-1.92,1.08],[-1.74,1.15],[-1.51,1.22],[-1.29,1.23],[-.97,1.17],[-.88,1.36],[-.7,1.34],[-.52,1.29],[-.33,1.13],[-.7,1.17],[-.52,1.03],[-.74,1.06],[-.38,.89],[-2.51,.77],[-2.6,.66],[-2.64,.56],[-2.33,.92],[-2.1,.96],[-1.78,.99],[-1.56,1.03]];
const dNodiffExtra=[[-2.55,.62],[-2.48,.75],[-2.4,.85],[-2.33,.78],[-2.26,.9],[-2.2,.98],[-2.12,.88],[-2.05,1.02],[-1.98,.95],[-1.92,.9],[-1.85,1.05],[-1.8,.92],[-1.73,1],[-1.68,1.1],[-1.62,.9],[-1.55,.96],[-1.48,1.08],[-1.42,.92],[-1.36,1],[-1.3,1.12],[-1.25,.95],[-1.18,1.04],[-1.12,.98],[-1.06,1.14],[-1,1.02],[-.94,.98],[-.92,1.26],[-.85,1.08],[-.8,.95],[-.76,1.2],[-.68,1.02],[-.62,.92],[-.6,1.1],[-.55,.85],[-.48,.95],[-.42,.72],[-.36,.8],[-.3,.7],[-.27,.6],[-.22,.45],[-.17,.35],[-2.7,.72],[-2.58,.45],[-2.45,.36],[-2.3,.3],[-2.25,.34],[-2.45,.92],[-2.6,1],[-2.75,1.18],[-2.2,1.1],[-2.15,1.22],[-1.88,1.2],[-1.66,1.25],[-1.4,1.18],[-1.15,1.28],[-.8,1.25],
[.15,.4],[.2,.5],[.22,.62],[.28,.78],[.33,.85],[.38,.95],[.45,.9],[.5,1],[.58,.96],[.63,1.13],[.7,.98],[.76,1.02],[.84,1.1],[.9,.93],[.96,1],[1.03,.92],[1.1,.95],[1.15,1.04],[1.22,.9],[1.3,.98],[1.36,.88],[1.45,.95],[1.55,.88],[1.62,1.02],[1.68,.82],[1.75,.9],[1.8,.78],[1.86,.86],[1.92,.72],[2,.76],[2.05,.62],[2.12,.55],[2.18,.72],[2.25,.8],[2.22,.45],[2.3,.35],[2.4,.5],[2.48,.42],[1.55,1.1],[1.35,1.08],[1.1,1.18],[.7,1.2],[.6,1.28],[1.85,1.12],[2,1.2],[2.3,1.15],[2.7,1.2],[2.85,1.2],
[-4.6,.69],[-4.42,.66],[-4.25,.63],[-4.05,.58],[-3.85,.5],[-3.7,.46],[-3.5,.44],[-3.45,.5],[-3.22,.42],[-3,.37],[-2.82,.34],[-2.65,.31],[-2.48,.29],[-2.25,.26],[-2.08,.24],[-4.25,1.22],[-4.17,1.13],[-4.1,1.05],[-4.03,.93],[-3.95,.86],[-3.82,.76],[-3.72,.7],[-3.62,.65],[-3.5,.57],
[2.5,.31],[2.74,.33],[2.9,.35],[3.08,.38],[3.28,.4],[3.45,.44],[3.7,.5],[3.95,.55],[3.6,.58],[3.72,.66],[3.85,.74],[3.98,.83],[4.1,.95],[4.19,1.06],[4.27,1.18],[4.02,.6],[4.22,.72],[4.5,.75],[4.6,.7]];
const dNodiff=[].concat(dNodiffMain,dNodiffExtra);
const dDenseLeft=[[0,-.04],[-1.1,.07],[-1.65,.14],[-1.92,.21],[-2.3,.27],[-2.37,.42],[-2.55,.56],[-2.46,.7],[-2.19,.8],[-1.65,.84],[-1.1,.9],[-.74,.86],[-.35,.55],[-.06,.23]];
const dDenseRight=[[.07,-.04],[1.07,.06],[2.06,.21],[2.4,.27],[2.15,.42],[1.97,.55],[1.61,.75],[.98,.85],[.52,.85],[.25,.7],[.12,.33],[.07,.12]];
const classNames=['up','nodiff','down'];
const classColors=['#FFB6BD','#FFCC00','#A9E22E'];
const xTickText=['-5','0','5'];

// ---------- page geometry (pixels on the 3090x3142 page)
const W=3090,H=3142;
const CX=755,CY=795,RMAX=560,R0=293,RW=29.3,TH0=.3;
const STEP=340/circIds.length;
if(circIds.length!==190)throw new Error('labels '+circIds.length);
heatRings.forEach((r,i)=>{if(r.length!==190)throw new Error('ring '+i+' '+r.length)});

const traces=[];
const annotations=[];
const shapes=[];
const pxAnn=(x,y,text,size,opt={})=>annotations.push(Object.assign({xref:'x5',yref:'y5',x,y,text,showarrow:false,xanchor:'center',yanchor:'middle',font:{family:FONT,size,color:opt.color||'#000'}},opt.extra||{}));

// overlay in page pixels, for the swatches of the panel A key
traces.push({type:'scatter',xaxis:'x5',yaxis:'y5',mode:'markers',x:[1567,1567,1567],y:[572,612,652],
  marker:{symbol:'square',size:20,color:groupColors},hoverinfo:'skip',showlegend:false});
groupNames.forEach((n,i)=>annotations.push({xref:'x5',yref:'y5',x:1586,y:572+40*i,text:n,showarrow:false,xanchor:'left',yanchor:'middle',font:{family:FONT,size:20.5,color:'#222'}}));

// Panel A heat rings
const colorscale=[[0,'#AAF400'],[.112,'#D0F97C'],[.224,'#E3FBB3'],[.448,'#FFFFFF'],[.673,'#FFE0E0'],[.785,'#FFC6C6'],[.897,'#FF9F9F'],[1,'#FF7F7F']];
const thetas=circIds.map((_,i)=>TH0+(i+.5)*STEP);
heatRings.forEach((vals,k)=>{
  const t={type:'barpolar',subplot:'polar',theta:thetas,r:vals.map(()=>RW),base:vals.map(()=>R0+k*RW),width:vals.map(()=>STEP),
    marker:{color:vals,cmin:-2,cmax:2.46,colorscale,line:{width:0},showscale:k===0},hoverinfo:'skip',showlegend:false};
  if(k===0)t.marker.colorbar={x:1464/W,xanchor:'left',xpad:0,y:1-565/H,yanchor:'top',ypad:0,len:195,lenmode:'pixels',thickness:29,thicknessmode:'pixels',
    tickvals:[2,1,0,-1],ticktext:['2','1','0','-1'],ticks:'inside',tickcolor:'#fff',ticklen:9,tickwidth:2,outlinewidth:0,borderwidth:0,
    tickfont:{family:FONT,size:18,color:'#222'}};
  traces.push(t);
});
// sample annotation track
traces.push({type:'barpolar',subplot:'polar',theta:sampleNames.map(()=>357.2),r:sampleNames.map(()=>RW),base:sampleNames.map((_,k)=>R0+k*RW),width:sampleNames.map(()=>3.5),
  marker:{color:sampleGroup.map(g=>groupColors[g]),line:{color:'#fff',width:2}},hoverinfo:'skip',showlegend:false});
// dendrogram
const dr=[],dt=[];
let leaf=0;
function place(n){
  if(n===0){return {t:TH0+(leaf++ +.5)*STEP,r:R0};}
  const a=place(n[1]),b=place(n[2]);
  const R=n[0];
  dr.push(a.r,R);dt.push(a.t,a.t);
  const seg=Math.max(2,Math.ceil((b.t-a.t)/1.2));
  for(let i=0;i<=seg;i++){dr.push(R);dt.push(a.t+(b.t-a.t)*i/seg);}
  dr.push(b.r,null);dt.push(b.t,null);
  return {t:(a.t+b.t)/2,r:R};
}
place(dendroRoot);
if(leaf!==190)throw new Error('leaves '+leaf);
traces.push({type:'scatterpolar',subplot:'polar',mode:'lines',r:dr,theta:dt,connectgaps:false,line:{color:'#000',width:2,simplify:false},hoverinfo:'skip',showlegend:false});

// rotated labels round the rings
const rad=d=>d*Math.PI/180;
circIds.forEach((id,i)=>{
  const a=thetas[i];
  const ang=(a>=90&&a<270)?a-180:(a>=270?a-360:a);
  const rr=643;
  annotations.push({xref:'x5',yref:'y5',x:CX+rr*Math.cos(rad(a)),y:CY+rr*Math.sin(rad(a)),text:'novel_circ_'+String(id).padStart(7,'0'),
    textangle:ang,showarrow:false,xanchor:'center',yanchor:'middle',font:{family:FONT,size:15.6,color:'#222'}});
});
sampleNames.forEach((n,k)=>{
  const rr=R0+(k+.5)*RW, a=rad(340+TH0)+37/rr;
  annotations.push({xref:'x5',yref:'y5',x:CX+rr*Math.cos(a),y:CY+rr*Math.sin(a),text:'<b>'+n+'</b>',textangle:70,showarrow:false,xanchor:'center',yanchor:'middle',font:{family:FONT,size:15.6,color:'#000'}});
});

// Panel B
const circ=(cx,cy,r,fill,line)=>({type:'circle',xref:'x5',yref:'y5',x0:cx-r,x1:cx+r,y0:cy-r,y1:cy+r,fillcolor:fill,line,layer:'below'});
const none={width:0};
shapes.push(circ(2171,622,446,'rgb(220,245,160)',none));
shapes.push(circ(2618,622,446,'rgba(254,236,168,.75)',none));
shapes.push(circ(2399,1004,446,'rgba(255,167,172,.75)',none));
const edge={color:'#333',width:3};
[[2171,622],[2618,622],[2399,1004]].forEach(c=>shapes.push(circ(c[0],c[1],446,'rgba(0,0,0,0)',edge)));
[[2090,114],[2714,114],[2431,1514]].forEach((p,i)=>pxAnn(p[0],p[1],vennNames[i],71,{color:'#333'}));
[[1961,509],[2395,432],[2824,509],[2395,726],[2108,922],[2678,922],[2392,1203]].forEach((p,i)=>pxAnn(p[0],p[1],vennCounts[i],73));

// Panels C and D
function volcano(ax,ay,up,nodiff,down,denseA,denseB,size,vTop,vBot,hL,hR){
  const xy=(arr,i)=>arr.map(p=>p[i]);
  [denseA,denseB].forEach(d=>traces.push({type:'scatter',xaxis:ax,yaxis:ay,mode:'lines',x:xy(d,0),y:xy(d,1),fill:'toself',fillcolor:classColors[1],line:{color:classColors[1],width:size*.7},hoverinfo:'skip',showlegend:false}));
  [up,nodiff,down].forEach((arr,i)=>traces.push({type:'scatter',xaxis:ax,yaxis:ay,mode:'markers',x:xy(arr,0),y:xy(arr,1),marker:{color:classColors[i],size,line:{width:0}},name:classNames[i],hoverinfo:'skip',showlegend:false}));
  const dash={color:'#000',width:4.5,dash:'10px,7px'};
  traces.push({type:'scatter',xaxis:ax,yaxis:ay,mode:'lines',x:[-1,-1,null,1,1],y:[vBot,vTop,null,vBot,vTop],line:dash,hoverinfo:'skip',showlegend:false});
  traces.push({type:'scatter',xaxis:ax,yaxis:ay,mode:'lines',x:[hL,hR],y:[1.31,1.31],line:dash,hoverinfo:'skip',showlegend:false});
}
volcano('x','y',cUp,cNodiff,cDown,cDenseLeft,cDenseRight,8.5,4.78,-.17,-7.02,6.97);
volcano('x2','y2',dUp,dNodiff,dDown,dDenseLeft,dDenseRight,15.5,8.03,-.2,-6.85,5.95);
// key of each volcano
function key(ax,ay,kx,ky,tx){
  traces.push({type:'scatter',xaxis:ax,yaxis:ay,mode:'markers',x:ky.map(()=>kx),y:ky,marker:{color:classColors,size:30},hoverinfo:'skip',showlegend:false});
  classNames.forEach((n,i)=>annotations.push({xref:ax,yref:ay,x:tx,y:ky[i],text:n,showarrow:false,xanchor:'left',yanchor:'middle',font:{family:FONT,size:56,color:'#333'}}));
}
key('x','y',4.74,[4.706,4.34,3.985],5.24);
key('x2','y2',3.91,[7.84,7.25,6.65],4.36);

const axisBase=()=>({showgrid:false,zeroline:false,showline:true,mirror:true,linecolor:'#000',linewidth:4,ticks:'outside',ticklen:12,tickwidth:4,tickcolor:'#000',tickfont:{family:FONT,size:60,color:'#000'}});
pxAnn(70,76,'A',117);pxAnn(1726,76,'B',117);pxAnn(70,1656,'C',117);pxAnn(1726,1652,'D',117);
pxAnn(857,1763,'LOW vs. CON',80,{color:'#333'});
pxAnn(2387,1768,'HIGH vs. CON',79.5,{color:'#333'});
pxAnn(858,3092,'log2(FoldChange)',65,{color:'#333'});
pxAnn(2386,3092,'log2(FoldChange)',65,{color:'#333'});
pxAnn(152,2396,'-log10(pvalue)',64,{color:'#333',extra:{textangle:-90}});
pxAnn(1686,2406,'-log10(pvalue)',64,{color:'#333',extra:{textangle:-90}});

const layout={width:W,height:H,margin:{l:0,r:0,t:0,b:0,autoexpand:false},paper_bgcolor:'#fff',plot_bgcolor:'rgba(0,0,0,0)',showlegend:false,
  polar:{domain:{x:[(CX-RMAX)/W,(CX+RMAX)/W],y:[1-(CY+RMAX)/H,1-(CY-RMAX)/H]},bgcolor:'rgba(0,0,0,0)',bargap:0,barmode:'overlay',
    radialaxis:{visible:false,range:[0,RMAX]},angularaxis:{visible:false,direction:'clockwise',rotation:0,thetaunit:'degrees'}},
  xaxis:Object.assign(axisBase(),{domain:[253/W,1465/W],range:[-7.18,7.18],tickvals:[-5,0,5],ticktext:xTickText,ticklabelstandoff:-8,anchor:'y'}),
  yaxis:Object.assign(axisBase(),{domain:[1-2967/H,1-1828/H],range:[-.19,4.885],tickvals:[0,1,2,3,4],ticklabelstandoff:-3,anchor:'x'}),
  xaxis2:Object.assign(axisBase(),{domain:[1789/W,2992/W],range:[-7,6.12],tickvals:[-5,0,5],ticktext:xTickText,ticklabelstandoff:-8,anchor:'y2'}),
  yaxis2:Object.assign(axisBase(),{domain:[1-2967/H,1-1832/H],range:[-.217,8.144],tickvals:[0,2,4,6],ticklabelstandoff:-3,anchor:'x2'}),
  xaxis5:{domain:[0,1],range:[0,W],visible:false,fixedrange:true,anchor:'y5'},
  yaxis5:{domain:[0,1],range:[H,0],visible:false,fixedrange:true,anchor:'x5'},
  shapes,annotations};
Plotly.newPlot('chart',traces,layout,{displayModeBar:false,staticPlot:true});
</script></body></html>
